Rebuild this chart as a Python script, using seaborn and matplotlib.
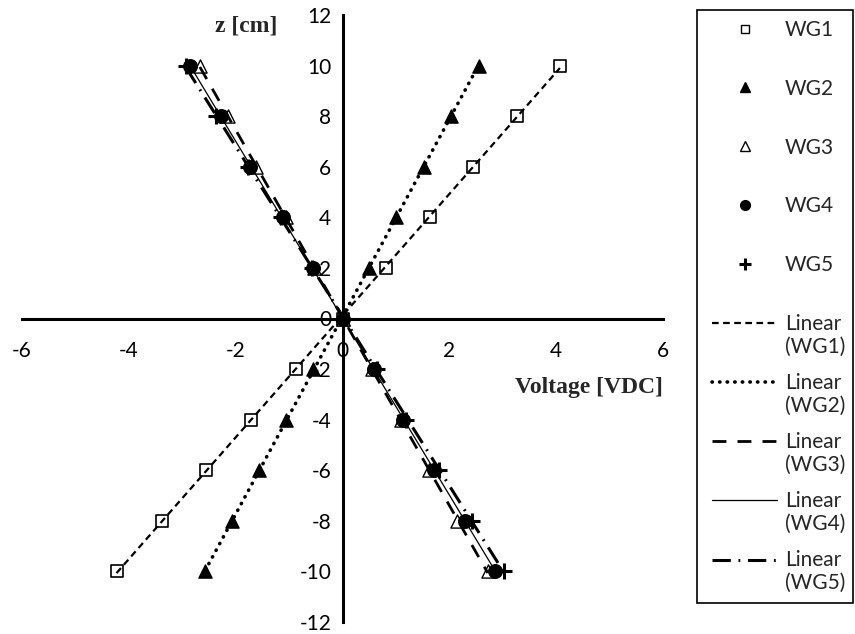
import numpy as np
import pandas as pd
import matplotlib
matplotlib.use("Agg")
import matplotlib.pyplot as plt
import seaborn as sns
from matplotlib.lines import Line2D
from matplotlib.patches import Rectangle
from matplotlib.legend_handler import HandlerLine2D

sns.set_style("white")
plt.rcParams["font.family"] = ["Lato", "DejaVu Sans"]

# Calibration depth z [cm] and measured voltage per wave gauge
z_cm = [10, 8, 6, 4, 2, 0, -2, -4, -6, -8, -10]
wg1 = [4.07, 3.26, 2.45, 1.63, 0.82, 0.0, -0.87, -1.71, -2.55, -3.38, -4.23]
wg2 = [2.55, 2.03, 1.52, 1.00, 0.50, 0.0, -0.55, -1.06, -1.56, -2.06, -2.57]
wg3 = [-2.67, -2.15, -1.62, -1.06, -0.54, 0.0, 0.56, 1.09, 1.62, 2.15, 2.72]
wg4 = [-2.86, -2.28, -1.73, -1.12, -0.56, 0.0, 0.59, 1.14, 1.72, 2.29, 2.86]
wg5 = [-2.93, -2.36, -1.76, -1.16, -0.58, 0.0, 0.65, 1.19, 1.81, 2.43, 3.03]

series_names = ["WG1", "WG2", "WG3", "WG4", "WG5"]
series_values = [wg1, wg2, wg3, wg4, wg5]

x_ticks = [-6, -4, -2, 0, 2, 4, 6]
y_ticks = [-12, -10, -8, -6, -4, -2, 0, 2, 4, 6, 8, 10, 12]

# marker style per gauge: (marker, facecolor, size, edge width)
marker_styles = {
    "WG1": ("s", "white", 80, 1.2),
    "WG2": ("^", "black", 90, 1.0),
    "WG3": ("^", "white", 90, 1.0),
    "WG4": ("o", "black", 95, 1.0),
    "WG5": ("+", "black", 140, 2.2),
}
# trendline style per gauge: (dash pattern, linewidth)
trend_styles = {
    "WG1": ((0, (3.0, 2.0)), 1.6),
    "WG2": ((0, (0.1, 2.0)), 2.6),
    "WG3": ((0, (5.0, 4.0)), 2.0),
    "WG4": ("-", 0.9),
    "WG5": ((0, (6.0, 2.5, 0.6, 2.5)), 2.2),
}

df = pd.DataFrame({
    "z": np.tile(z_cm, len(series_names)),
    "V": np.concatenate(series_values),
    "gauge": np.repeat(series_names, len(z_cm)),
})

fig = plt.figure(figsize=(8.55, 6.34), dpi=100)
ax = fig.add_axes([22 / 855, 12 / 634, 641 / 855, 607 / 634])

for name in series_names:
    sub = df[df["gauge"] == name]
    mk, fc, sz, lw = marker_styles[name]
    if mk == "+":
        sns.scatterplot(data=sub, x="V", y="z", marker=mk, s=sz, color="black",
                        linewidth=lw, ax=ax, zorder=3, legend=False)
    else:
        sns.scatterplot(data=sub, x="V", y="z", marker=mk, s=sz, facecolor=fc,
                        edgecolor="black", linewidth=lw, ax=ax, zorder=3, legend=False)

# least-squares trendlines z = a*V + b over each gauge's voltage range
for name in series_names:
    sub = df[df["gauge"] == name]
    a, b = np.polyfit(sub["V"], sub["z"], 1)
    xs = np.array([sub["V"].min(), sub["V"].max()])
    fit = pd.DataFrame({"V": xs, "z": a * xs + b})
    sns.lineplot(data=fit, x="V", y="z", color="black", ax=ax, estimator=None,
                 sort=False, legend=False)
    ls, lw = trend_styles[name]
    line = ax.lines[-1]
    line.set_linestyle(ls)
    line.set_linewidth(lw)
    line.set_zorder(4)
    if name == "WG2":
        line.set_dash_capstyle("round")

ax.set_xlim(-6, 6)
ax.set_ylim(-12, 12)
ax.set_xticks(x_ticks)
ax.set_yticks(y_ticks)
ax.set_xticklabels([str(t) for t in x_ticks])
ax.set_yticklabels([str(t) for t in y_ticks])

for side in ["top", "right"]:
    ax.spines[side].set_visible(False)
ax.spines["left"].set_position(("data", 0))
ax.spines["bottom"].set_position(("data", 0))
for side in ["left", "bottom"]:
    ax.spines[side].set_linewidth(2.2)
    ax.spines[side].set_color("black")
ax.tick_params(axis="both", direction="out", length=6, width=2.2, colors="black",
               labelsize=15, labelcolor="black")
ax.tick_params(axis="x", pad=10)
ax.tick_params(axis="y", pad=2)
ax.patch.set_visible(False)

ax.set_xlabel("Voltage [VDC]", family="Liberation Serif", fontweight="bold",
              fontsize=17, va="center", ha="center")
ax.xaxis.set_label_coords((589 - 22) / 641, (634 - 388 - 12) / 607)
ax.set_ylabel("z [cm]", family="Liberation Serif", fontweight="bold",
              fontsize=17, rotation=0, va="center", ha="center")
ax.yaxis.set_label_coords((246 - 22) / 641, (634 - 26 - 12) / 607)

# legend
fs = 15
marker_handles = []
for name in series_names:
    mk, fc, sz, lw = marker_styles[name]
    ms = np.sqrt(sz) * 0.72
    marker_handles.append(Line2D([], [], linestyle="none", marker=mk, markersize=ms,
                                 markerfacecolor=fc, markeredgecolor="black",
                                 markeredgewidth=lw if mk == "+" else 1.0,
                                 color="black"))
leg1 = fig.legend(marker_handles, series_names, loc="upper left",
                  bbox_to_anchor=(724 / 855, 1 - 20 / 634), frameon=False,
                  fontsize=fs, handlelength=2.0, handletextpad=0.9,
                  labelspacing=1.86, borderpad=0, borderaxespad=0)


class FirstLineHandler(HandlerLine2D):
    def create_artists(self, legend, orig_handle, xdescent, ydescent, width,
                       height, fontsize, trans):
        arts = super().create_artists(legend, orig_handle, xdescent, ydescent,
                                      width, height, fontsize, trans)
        for a in arts:
            a.set_ydata(np.asarray(a.get_ydata()) + 0.62 * fontsize)
        return arts


line_handles = []
for name in series_names:
    ls, lw = trend_styles[name]
    h = Line2D([], [], color="black", linestyle=ls, linewidth=lw)
    if name == "WG2":
        h.set_dash_capstyle("round")
    line_handles.append(h)
line_labels = [f"Linear\n({n})" for n in series_names]
leg2 = fig.legend(line_handles, line_labels, loc="upper left",
                  bbox_to_anchor=(712 / 855, 1 - 314 / 634), frameon=False,
                  fontsize=fs, handlelength=3.1, handletextpad=0.4,
                  labelspacing=0.76, borderpad=0, borderaxespad=0,
                  handler_map={Line2D: FirstLineHandler()})
for t in leg2.get_texts():
    t.set_multialignment("left")

fig.patches.append(Rectangle((697 / 855, 1 - 603 / 634), (853 - 697) / 855,
                             (603 - 10) / 634, transform=fig.transFigure,
                             fill=False, edgecolor="black", linewidth=1.2))

fig.savefig("out.png", dpi=100)
